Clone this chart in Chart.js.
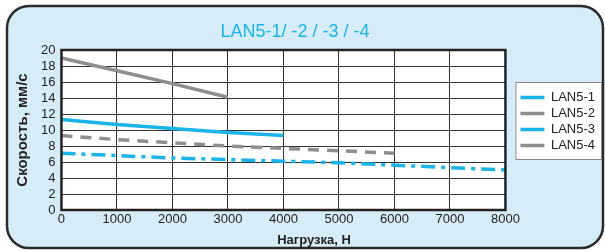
<!DOCTYPE html>
<html>
<head>
  <title>LAN5</title>
  <script src="https://cdn.jsdelivr.net/npm/chart.js"></script>
  <style>
    body { margin: 0; background: #fff; }
  </style>
</head>
<body>
  <canvas id="myChart" width="605" height="251"></canvas>

  <script>
    // нагрузка, Н
    const loads = [0, 1000, 2000, 3000, 4000, 5000, 6000, 7000, 8000];
    const lan51 = [7.1, 6.8, 6.5, 6.3, 6.1, 5.9, 5.6, 5.3, 5.0];
    const lan52 = [9.3, 8.8, 8.4, 8.0, 7.7, 7.4, 7.1, null, null];
    const lan53 = [11.3, 10.7, 10.2, 9.7, 9.3, null, null, null, null];
    const lan54 = [19.0, 17.4, 15.8, 14.1, null, null, null, null, null];
    const yTicks = [0, 2, 4, 6, 8, 10, 12, 14, 16, 18, 20];
    const chartTitle = 'LAN5-1/ -2 / -3 / -4';
    const xTitle = 'Нагрузка, Н';

    const cyan = '#1ab4e8';
    const grey = '#8e8e8e';

    function toPoints(arr) {
      return loads.map((x, i) => ({ x: x, y: arr[i] }));
    }

    const background = {
      id: 'background',
      afterLayout(chart) {
        // легенда по высоте центрируется выше, как в оригинале
        const lg = chart.legend;
        lg.top = 0;
        lg.bottom = 243;
        lg.height = 243;
      },
      beforeDraw(chart) {
        const ctx = chart.ctx;
        const a = chart.chartArea;
        ctx.save();
        // рамка с закруглёнными углами
        ctx.beginPath();
        ctx.roundRect(7, 6, 596, 242, 22);
        ctx.fillStyle = '#d6edf9';
        ctx.fill();
        ctx.lineWidth = 2.5;
        ctx.strokeStyle = '#2b2b2b';
        ctx.stroke();
        // поле графика
        ctx.fillStyle = '#fff';
        ctx.fillRect(a.left, a.top, a.right - a.left, a.bottom - a.top);
        // рамка легенды вокруг пунктов
        const boxes = chart.legend.legendHitBoxes;
        if (boxes && boxes.length) {
          const x0 = Math.min(...boxes.map(b => b.left)) - 5;
          const y0 = boxes[0].top - 9;
          const y1 = boxes[boxes.length - 1].top + boxes[boxes.length - 1].height + 8;
          const x1 = 602;
          ctx.fillStyle = '#fff';
          ctx.fillRect(x0, y0, x1 - x0, y1 - y0);
          ctx.lineWidth = 1;
          ctx.strokeStyle = '#8a8a8a';
          ctx.strokeRect(x0 + 0.5, y0 + 0.5, x1 - x0 - 1, y1 - y0 - 1);
        }
        ctx.restore();
      },
      afterDraw(chart) {
        const ctx = chart.ctx;
        const a = chart.chartArea;
        ctx.save();
        ctx.lineWidth = 2.5;
        ctx.strokeStyle = '#222';
        ctx.strokeRect(a.left, a.top, a.right - a.left, a.bottom - a.top);
        ctx.textAlign = 'center';
        ctx.textBaseline = 'middle';
        // заголовок
        ctx.fillStyle = cyan;
        ctx.font = '18px "Liberation Sans", Arial';
        ctx.fillText(chartTitle, 295, 32);
        // подпись оси X смещена вправо, как в оригинале
        ctx.fillStyle = '#222';
        ctx.font = 'bold 13px "Liberation Sans", Arial';
        ctx.fillText(xTitle, 314, 240);
        ctx.restore();
      }
    };

    const ctx = document.getElementById('myChart').getContext('2d');
    new Chart(ctx, {
      type: 'line',
      data: {
        datasets: [
          { label: 'LAN5-1', data: toPoints(lan51), borderColor: cyan, borderWidth: 3.5, borderDash: [14, 6, 4, 6] },
          { label: 'LAN5-2', data: toPoints(lan52), borderColor: grey, borderWidth: 3.5, borderDash: [11, 8] },
          { label: 'LAN5-3', data: toPoints(lan53), borderColor: cyan, borderWidth: 3.5 },
          { label: 'LAN5-4', data: toPoints(lan54), borderColor: grey, borderWidth: 3.5 }
        ]
      },
      options: {
        responsive: false,
        animation: false,
        spanGaps: false,
        elements: { point: { radius: 0 }, line: { tension: 0 } },
        layout: { padding: { left: 14, right: 0, top: 50, bottom: 3 } },
        plugins: {
          title: { display: false },
          legend: {
            position: 'right',
            labels: {
              usePointStyle: true,
              pointStyle: 'line',
              pointStyleWidth: 24,
              boxHeight: 13,
              padding: 3,
              color: '#222',
              font: { family: 'Liberation Sans, Arial', size: 13 }
            }
          },
          tooltip: { enabled: false }
        },
        scales: {
          x: {
            type: 'linear',
            min: 0,
            max: 8000,
            ticks: {
              stepSize: 1000,
              color: '#222',
              padding: 2,
              callback: v => String(v),
              font: { family: 'Liberation Sans, Arial', size: 13 }
            },
            grid: { color: '#333', lineWidth: 1, drawTicks: false },
            border: { display: false },
            title: {
              display: true,
              text: xTitle,
              color: 'rgba(0,0,0,0)',
              font: { family: 'Liberation Sans, Arial', size: 12, weight: 'bold' },
              padding: { top: 4, bottom: 0 }
            }
          },
          y: {
            min: 0,
            max: 20,
            afterBuildTicks: axis => { axis.ticks = yTicks.map(v => ({ value: v })); },
            ticks: {
              autoSkip: false,
              color: '#222',
              padding: 6,
              font: { family: 'Liberation Sans, Arial', size: 13 }
            },
            grid: { color: '#333', lineWidth: 1, drawTicks: false },
            border: { display: false },
            title: {
              display: true,
              text: 'Скорость, мм/с',
              color: '#222',
              font: { family: 'Liberation Sans, Arial', size: 15, weight: 'bold' },
              padding: { top: 0, bottom: 3 }
            }
          },
          // пустая ось справа — только отступ до легенды
          gap: {
            type: 'linear',
            position: 'right',
            display: true,
            ticks: { display: false },
            grid: { display: false },
            border: { display: false },
            afterFit: s => { s.width = 12; }
          }
        }
      },
      plugins: [background]
    });
  </script>
</body>
</html>
